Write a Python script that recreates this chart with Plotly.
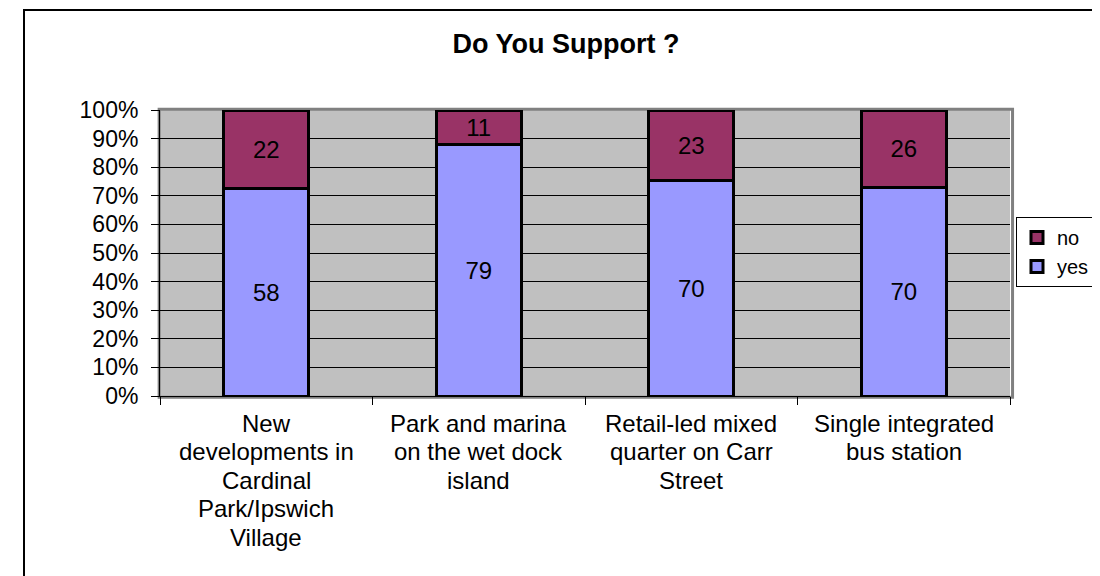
import plotly.graph_objects as go

categories = [
    "New developments in Cardinal Park/Ipswich Village",
    "Park and marina on the wet dock island",
    "Retail-led mixed quarter on Carr Street",
    "Single integrated bus station",
]
label_lines = [
    ["New", "developments in", "Cardinal", "Park/Ipswich", "Village"],
    ["Park and marina", "on the wet dock", "island"],
    ["Retail-led mixed", "quarter on Carr", "Street"],
    ["Single integrated", "bus station"],
]
yes_values = [58, 79, 70, 70]
no_values = [22, 11, 23, 26]
y_ticks = [0, 10, 20, 30, 40, 50, 60, 70, 80, 90, 100]

FONT = "Arial, Liberation Sans, sans-serif"

# layout geometry (figure pixels)
ML, MT, PW, PH = 152, 102, 850, 286
W, H = 1100, 576

fig = go.Figure()
fig.add_trace(go.Bar(
    name="yes", x=categories, y=yes_values, text=yes_values,
    marker=dict(color="#9999FF", line=dict(color="black", width=3)),
    width=0.4, textposition="inside", insidetextanchor="middle",
    textfont=dict(size=24, color="black", family=FONT), constraintext="none",
    hoverinfo="skip",
))
fig.add_trace(go.Bar(
    name="no", x=categories, y=no_values, text=no_values,
    marker=dict(color="#993366", line=dict(color="black", width=3)),
    width=0.4, textposition="inside", insidetextanchor="middle",
    textfont=dict(size=24, color="black", family=FONT), constraintext="none",
    hoverinfo="skip",
))

annotations = []
for cat, lines in zip(categories, label_lines):
    for i, line in enumerate(lines):
        annotations.append(dict(
            x=cat, xref="x", y=0, yref="paper", yanchor="middle", xanchor="center",
            yshift=-27 - i * 28.5, text=line, showarrow=False,
            font=dict(size=24, family=FONT, color="black"),
        ))

fig.update_layout(
    width=W, height=H,
    barmode="stack", barnorm="percent",
    margin=dict(l=ML, r=W - ML - PW, t=MT, b=H - MT - PH, autoexpand=False),
    paper_bgcolor="white", plot_bgcolor="#C0C0C0",
    font=dict(family=FONT, size=22, color="black"),
    title=dict(text="<b>Do You Support ?</b>", x=(558 - ML) / PW, xref="paper", xanchor="center",
               y=1 - 36 / H, yref="container", yanchor="middle",
               font=dict(size=27, family=FONT, color="black")),
    showlegend=True,
    legend=dict(traceorder="reversed", x=(1008 - ML) / PW, xanchor="left",
                y=1 - 142 / PH, yanchor="middle",
                bordercolor="black", borderwidth=1, bgcolor="white",
                font=dict(size=20, family=FONT), tracegroupgap=0),
    xaxis=dict(
        type="category", tickmode="array", tickvals=categories,
        ticktext=["" for _ in categories],
        tickson="boundaries", ticks="outside", ticklen=8, tickcolor="black",
        showline=True, linecolor="black", linewidth=1, showgrid=False,
        range=[-0.5, 3.5],
    ),
    yaxis=dict(
        range=[0, 100], tickmode="array", tickvals=y_ticks,
        ticktext=[f"{v}%" for v in y_ticks],
        ticks="outside", ticklen=8, tickcolor="black", ticklabelstandoff=8,
        showline=True, linecolor="black", linewidth=1,
        showgrid=True, gridcolor="black", gridwidth=1, zeroline=False,
        tickfont=dict(size=23, family=FONT),
    ),
    annotations=annotations,
    shapes=[
        # plot area border (gray)
        dict(type="rect", xref="paper", yref="paper", x0=-0.001, x1=1.003, y0=-0.004, y1=1.003,
             line=dict(color="#808080", width=3), layer="below"),
        # outer chart frame
        dict(type="rect", xref="paper", yref="paper",
             x0=(16 - ML) / PW, x1=1.3, y0=-1.0, y1=(MT + PH - 2) / PH,
             line=dict(color="black", width=2), fillcolor="rgba(0,0,0,0)", layer="below"),
    ],
)

fig.write_html("out.html")
